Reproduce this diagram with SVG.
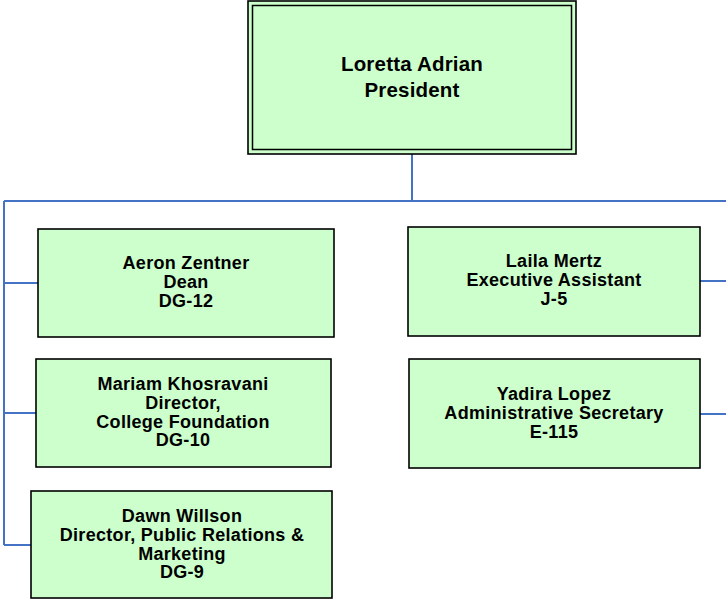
<svg xmlns="http://www.w3.org/2000/svg" width="726" height="600" viewBox="0 0 726 600">
<style>
.box{fill:#CCFFCC;stroke:#000;stroke-width:1.6}
.t{font-family:"Liberation Sans",Arial,sans-serif;font-weight:bold;font-size:18px;letter-spacing:0.3px;fill:#000;text-anchor:middle}
.tp{font-size:20.5px;letter-spacing:0.2px}
.c{fill:none;stroke:#4472C4;stroke-width:2}
</style>
<rect width="726" height="600" fill="#fff"/>
<g id="connectors">
<path class="c" d="M412,154 V201 M4,201 H726 M4,201 V545 M4,283 H38 M4,413 H36 M4,545 H31 M700,281 H726 M700,414 H726"/>
</g>
<g id="president">
<rect class="box" x="248" y="1" width="328" height="153" stroke-width="2"/>
<rect x="252.5" y="5.5" width="319" height="144" fill="none" stroke="#000" stroke-width="1.5"/>
<text class="t tp" x="412" y="71">Loretta Adrian</text>
<text class="t tp" x="412" y="97">President</text>
</g>
<g id="aeron">
<rect class="box" x="38" y="229" width="296" height="108"/>
<text class="t" x="186" y="269">Aeron Zentner</text>
<text class="t" x="186" y="288">Dean</text>
<text class="t" x="186" y="306.5">DG-12</text>
</g>
<g id="mariam">
<rect class="box" x="36" y="359" width="295" height="108"/>
<text class="t" x="183" y="390">Mariam Khosravani</text>
<text class="t" x="183" y="409">Director,</text>
<text class="t" x="183" y="427.5">College Foundation</text>
<text class="t" x="183" y="446">DG-10</text>
</g>
<g id="dawn">
<rect class="box" x="31" y="491" width="301" height="107"/>
<text class="t" x="182" y="522">Dawn Willson</text>
<text class="t" x="182" y="541">Director, Public Relations &amp;</text>
<text class="t" x="182" y="559.5">Marketing</text>
<text class="t" x="182" y="578">DG-9</text>
</g>
<g id="laila">
<rect class="box" x="408" y="227" width="292" height="109"/>
<text class="t" x="554" y="267">Laila Mertz</text>
<text class="t" x="554" y="286">Executive Assistant</text>
<text class="t" x="554" y="304.5">J-5</text>
</g>
<g id="yadira">
<rect class="box" x="409" y="359" width="291" height="109"/>
<text class="t" x="554" y="400">Yadira Lopez</text>
<text class="t" x="554" y="419">Administrative Secretary</text>
<text class="t" x="554" y="437.5">E-115</text>
</g>
</svg>
